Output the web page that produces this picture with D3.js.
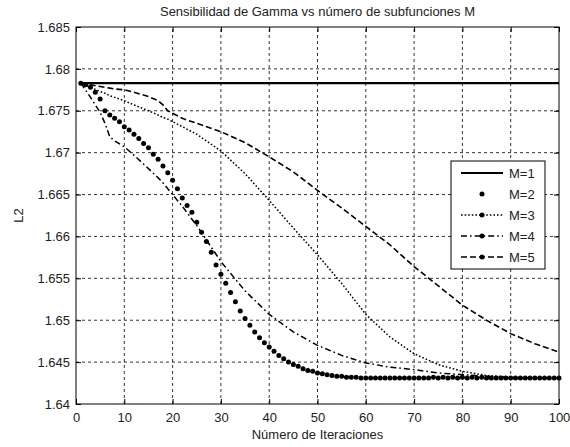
<!DOCTYPE html>
<html>
<head>
<meta charset="utf-8">
<script src="https://cdn.jsdelivr.net/npm/d3@7"></script>
<style>
html,body{margin:0;padding:0;background:#fff;}
svg{display:block;}
text{font-family:"Liberation Sans",Arial,sans-serif;fill:#222;}
</style>
</head>
<body>
<svg id="chart" width="570" height="447"></svg>
<script>
// ---- data ----
const title = "Sensibilidad de Gamma vs número de subfunciones M";
const xLabel = "Número de Iteraciones";
const yLabel = "L2";
const xTicks = [0,10,20,30,40,50,60,70,80,90,100];
const yTicks = [1.64,1.645,1.65,1.655,1.66,1.665,1.67,1.675,1.68,1.685];
const seriesNames = ["M=1","M=2","M=3","M=4","M=5"];

// M=2 : one marker per iteration (1..100)
const m2 = [1.6783,1.6781,1.6778,1.6772,1.6764,1.6750,1.6745,1.6741,1.6737,1.6731,
            1.6727,1.6722,1.6717,1.6711,1.6706,1.6698,1.6692,1.6684,1.6676,1.6667,
            1.6657,1.6646,1.6637,1.6629,1.6617,1.6605,1.6594,1.6581,1.6566,1.6555,
            1.6544,1.6533,1.6522,1.6511,1.6502,1.6494,1.6486,1.6479,1.6473,1.6468,
            1.6463,1.6458,1.6454,1.6450,1.6447,1.6445,1.6442,1.6440,1.6439,1.6437,
            1.6436,1.6435,1.6434,1.6433,1.6433,1.6432,1.6432,1.6432,1.6431,1.6431,
            1.6431,1.6431,1.6431,1.6431,1.6431,1.6431,1.6431,1.6431,1.6431,1.6431,
            1.6431,1.6431,1.6431,1.6432,1.6431,1.6432,1.6431,1.6432,1.6431,1.6432,
            1.6431,1.6432,1.6431,1.6432,1.6431,1.6431,1.6431,1.6431,1.6431,1.6431,
            1.6431,1.6431,1.6431,1.6431,1.6431,1.6431,1.6431,1.6431,1.6431,1.6431];

// line series sampled at these iterations
const lineIter = [1,3,5,6,7,8,10,12,15,17,18,19,20,22,25,30,35,40,45,50,55,60,65,70,75,80,85,90,95,100];
const m1 = [1.6783,1.6783,1.6783,1.6783,1.6783,1.6783,1.6783,1.6783,1.6783,1.6783,
            1.6783,1.6783,1.6783,1.6783,1.6783,1.6783,1.6783,1.6783,1.6783,1.6783,
            1.6783,1.6783,1.6783,1.6783,1.6783,1.6783,1.6783,1.6783,1.6783,1.6783];
const m3 = [1.6783,1.6778,1.6773,1.6771,1.6768,1.6766,1.6762,1.6757,1.6750,1.6745,
            1.6742,1.6740,1.6737,1.6731,1.6722,1.6702,1.6675,1.6643,1.6610,1.6578,
            1.6544,1.6507,1.6480,1.6460,1.6447,1.6439,1.6434,1.6432,1.6431,1.6431];
const m4 = [1.6783,1.6766,1.6748,1.6735,1.6719,1.6714,1.6707,1.6697,1.6681,1.6670,
            1.6664,1.6657,1.6650,1.6636,1.6613,1.6570,1.6535,1.6507,1.6486,1.6470,
            1.6458,1.6449,1.6444,1.6441,1.6437,1.6435,1.6433,1.6431,1.6431,1.6431];
const m5 = [1.6783,1.6781,1.6779,1.6778,1.6777,1.6776,1.6775,1.6772,1.6767,1.6762,
            1.6757,1.6750,1.6747,1.6741,1.6735,1.6725,1.6712,1.6695,1.6677,1.6655,
            1.6634,1.6612,1.6590,1.6564,1.6541,1.6518,1.6500,1.6484,1.6472,1.6462];

// ---- drawing ----
const W = 570, H = 447;
const M = {left:76, right:11, top:27, bottom:43};
const svg = d3.select("#chart");
const x = d3.scaleLinear().domain([0,100]).range([M.left, W-M.right]);
const y = d3.scaleLinear().domain([1.64,1.685]).range([H-M.bottom, M.top]);
const x0 = M.left, x1 = W-M.right, y0 = H-M.bottom, y1 = M.top;

// grid
const grid = svg.append("g");
grid.selectAll(".gx").data(xTicks.slice(1,-1)).join("line")
  .attr("x1",d=>x(d)).attr("x2",d=>x(d)).attr("y1",y0).attr("y2",y1)
  .attr("stroke","#000").attr("stroke-width",0.8).attr("stroke-dasharray","3,3");
grid.selectAll(".gy").data(yTicks.slice(1,-1)).join("line")
  .attr("y1",d=>y(d)).attr("y2",d=>y(d)).attr("x1",x0).attr("x2",x1)
  .attr("stroke","#000").attr("stroke-width",0.8).attr("stroke-dasharray","3,3");

// axes with inward ticks
const fmtY = d3.format(".3~f");
const axB = svg.append("g").attr("transform",`translate(0,${y0})`)
  .call(d3.axisBottom(x).tickValues(xTicks).tickSize(-5).tickPadding(9).tickFormat(d3.format("d")));
const axT = svg.append("g").attr("transform",`translate(0,${y1})`)
  .call(d3.axisTop(x).tickValues(xTicks).tickSize(-5).tickFormat(""));
const axL = svg.append("g").attr("transform",`translate(${x0},0)`)
  .call(d3.axisLeft(y).tickValues(yTicks).tickSize(-5).tickPadding(9).tickFormat(fmtY));
const axR = svg.append("g").attr("transform",`translate(${x1},0)`)
  .call(d3.axisRight(y).tickValues(yTicks).tickSize(-5).tickFormat(""));
[axB,axT,axL,axR].forEach(a=>{
  a.select(".domain").remove();
  a.selectAll(".tick line").attr("stroke","#000");
  a.selectAll("text").attr("font-size",13).attr("fill","#222")
   .attr("font-family","'Liberation Sans',Arial,sans-serif");
});
axL.selectAll("text").attr("dx",3);

// frame
svg.append("rect").attr("x",x0).attr("y",y1).attr("width",x1-x0).attr("height",y0-y1)
  .attr("fill","none").attr("stroke","#000").attr("stroke-width",1);

// series
const lineGen = d3.line().x(d=>x(d[0])).y(d=>y(d[1]));
const styles = {
  "M=1":{dash:null, w:2.2},
  "M=3":{dash:"1.6,2", w:1.5},
  "M=4":{dash:"6,3,1.6,3", w:1.5},
  "M=5":{dash:"6,3", w:1.6}
};
const lineData = {"M=1":m1,"M=3":m3,"M=4":m4,"M=5":m5};
Object.keys(lineData).forEach(k=>{
  const pts = lineIter.map((it,i)=>[it, lineData[k][i]]);
  svg.append("path").datum(pts).attr("d",lineGen)
    .attr("fill","none").attr("stroke","#000").attr("stroke-width",styles[k].w)
    .attr("stroke-dasharray",styles[k].dash);
});
// M=2 markers
svg.append("g").selectAll("circle").data(m2.map((v,i)=>[i+1,v])).join("circle")
  .attr("cx",d=>x(d[0])).attr("cy",d=>y(d[1])).attr("r",2.5).attr("fill","#000");

// title & labels
svg.append("text").attr("x",(x0+x1)/2).attr("y",16).attr("text-anchor","middle")
  .attr("font-size",13).text(title);
svg.append("text").attr("x",(x0+x1)/2).attr("y",439).attr("text-anchor","middle")
  .attr("font-size",13).text(xLabel);
svg.append("text").attr("transform",`translate(23,${(y0+y1)/2}) rotate(-90)`)
  .attr("text-anchor","middle").attr("font-size",13).text(yLabel);

// legend
const lg = svg.append("g");
lg.append("rect").attr("x",451).attr("y",161).attr("width",94).attr("height",108)
  .attr("fill","#fff").attr("stroke","#000").attr("stroke-width",1);
seriesNames.forEach((n,i)=>{
  const ly = 173 + i*21;
  if(n!=="M=2"){
    lg.append("line").attr("x1",461).attr("x2",503).attr("y1",ly).attr("y2",ly)
      .attr("stroke","#000").attr("stroke-width",styles[n].w).attr("stroke-dasharray",styles[n].dash);
  }
  lg.append("circle").attr("cx",482).attr("cy",ly).attr("r",n==="M=1"?0:2.5).attr("fill","#000");
  lg.append("text").attr("x",509).attr("y",ly+5).attr("font-size",13).text(n);
});
</script>
</body>
</html>
